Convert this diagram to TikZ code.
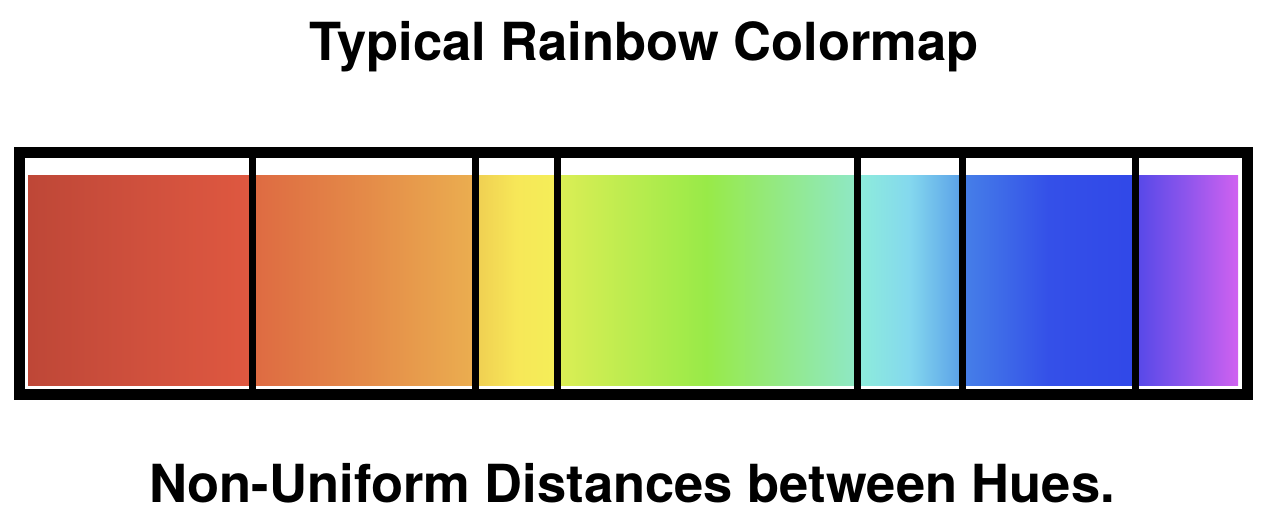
\documentclass[tikz,border=0pt]{standalone}
\usepackage{fontspec}
\setmainfont{TeX Gyre Heros}
\usepackage{tikz}
\usetikzlibrary{positioning}
\definecolor{seg1L}{HTML}{BE4737}
\definecolor{seg1M}{HTML}{CF503D}
\definecolor{seg1R}{HTML}{DF5840}
\definecolor{seg2L}{HTML}{DE6A42}
\definecolor{seg2M}{HTML}{E48A48}
\definecolor{seg2R}{HTML}{EBAE50}
\definecolor{seg3L}{HTML}{EFCE52}
\definecolor{seg3M}{HTML}{F7E758}
\definecolor{seg3R}{HTML}{F4EE58}
\definecolor{seg4L}{HTML}{DCEE55}
\definecolor{seg4M}{HTML}{98EA48}
\definecolor{seg4R}{HTML}{8EE8C6}
\definecolor{seg5L}{HTML}{8EEDDA}
\definecolor{seg5M}{HTML}{84D8EE}
\definecolor{seg5R}{HTML}{5AA0E8}
\definecolor{seg6L}{HTML}{4680E8}
\definecolor{seg6M}{HTML}{3450E8}
\definecolor{seg6R}{HTML}{3148E8}
\definecolor{seg7L}{HTML}{5448E8}
\definecolor{seg7M}{HTML}{8E55EC}
\definecolor{seg7R}{HTML}{D062F0}

\tikzset{
  frame/.style={draw=black, line width=11pt},
  divider/.style={draw=black, line width=7pt},
  caption/.style={font=\fontsize{52.5}{58}\selectfont\bfseries, inner sep=0pt, anchor=base}
}

\begin{document}
\begin{tikzpicture}[x=1pt, y=-1pt]
    \useasboundingbox (0,0) rectangle (1270,522);
    \fill[white] (0,0) rectangle (1270,522);
    % title
    \node[caption] (title) at (644,60) {Typical Rainbow Colormap};
    % colour strip
    \foreach \xa/\xb/\i in {28/252/1, 252/475/2, 475/557/3, 557/857/4, 857/962/5, 962/1135/6, 1135/1238/7}
      \shade[left color=seg\i L, right color=seg\i R, middle color=seg\i M] (\xa,175) rectangle (\xb,385);
    % frame and dividers
    \draw[frame] (19.5,152.5) rectangle (1247.5,394);
    \foreach \x in {252,475,557,857,962,1135}
      \draw[divider] (\x,152.5) -- (\x,394);
    % caption
    \node[caption] (caption) at (632,502) {Non-Uniform Distances between Hues.};
\end{tikzpicture}
\end{document}
